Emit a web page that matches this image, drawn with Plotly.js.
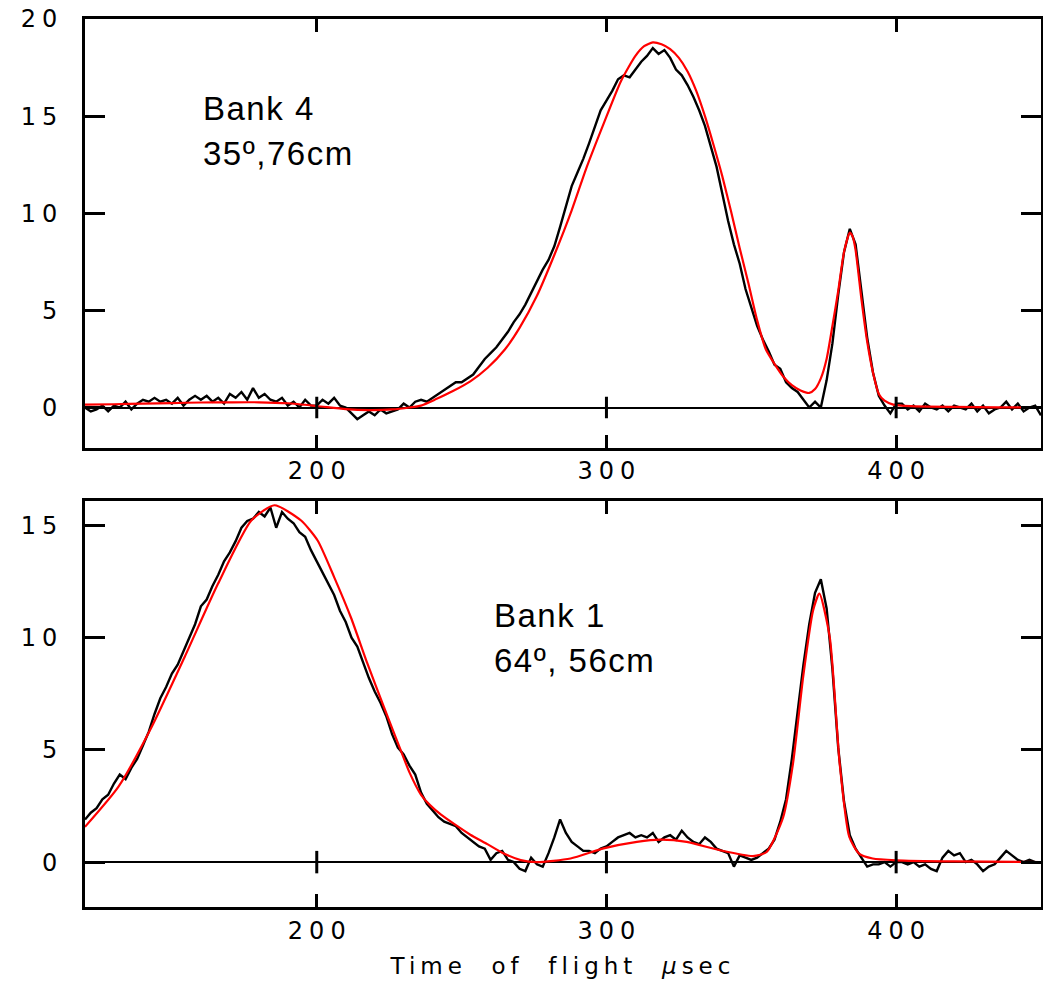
<!DOCTYPE html>
<html>
<head>
<meta charset="utf-8">
<script src="https://cdn.plot.ly/plotly-3.0.1.min.js"></script>
<style>html,body{margin:0;padding:0;background:#fff;}#chart{width:1043px;height:987px;}</style>
</head>
<body>
<div id="chart"></div>
<script>
// ---- Bank 4 (top panel): measured counts on a 2 µs grid, 120..450 ----
const bank4Time = [];
for (let t = 120; t <= 450; t += 2) bank4Time.push(t);
const bank4Counts = [
 0.0,-0.2,-0.1,0.1,-0.2,0.1,0.0,0.3,-0.1,0.2,            // 120-138
 0.4,0.3,0.5,0.3,0.4,0.2,0.5,0.1,0.4,0.6,                // 140-158
 0.4,0.6,0.3,0.5,0.2,0.7,0.5,0.8,0.4,1.0,                // 160-178
 0.5,0.7,0.4,0.3,0.5,0.1,0.3,0.0,0.4,0.1,                // 180-198
 0.1,0.4,0.2,0.5,0.1,0.0,-0.3,-0.6,-0.4,-0.2,            // 200-218
 -0.4,-0.1,-0.3,-0.2,-0.1,0.2,0.0,0.3,0.4,0.3,           // 220-238
 0.5,0.7,0.9,1.1,1.3,1.3,1.5,1.7,2.1,2.5,                // 240-258
 2.8,3.1,3.5,3.9,4.4,4.8,5.3,5.9,6.5,7.1,                // 260-278
 7.6,8.3,9.3,10.4,11.4,12.1,12.8,13.6,14.5,15.3,         // 280-298
 15.8,16.3,16.9,17.1,17.0,17.4,17.8,18.1,18.5,18.2,      // 300-318
 18.4,18.0,17.4,17.1,16.6,16.0,15.3,14.5,13.5,12.4,      // 320-338
 11.0,9.6,8.4,7.4,6.1,5.2,4.2,3.5,2.9,2.2,               // 340-358
 2.0,1.3,1.0,0.8,0.4,0.0,0.3,0.0,1.4,3.3,                // 360-378
 5.8,8.0,9.2,8.4,6.0,3.6,1.8,0.6,0.1,-0.3,               // 380-398
 0.2,0.2,-0.1,0.1,-0.2,0.2,0.0,-0.1,0.1,-0.2,            // 400-418
 0.1,0.0,-0.1,0.2,-0.2,0.1,-0.3,-0.1,0.0,0.3,            // 420-438
 -0.1,0.2,-0.2,0.0,0.1,-0.4                              // 440-450
];
// ---- Bank 4 fit (red) ----
const bank4FitTime = [120,130,140,150,160,170,180,190,200,210,218,226,232,236,241,247,253,259,265,270,276,282,288,293,299,305,310,313,316,319,322,325,328,331,334,337,340,343,346,349,352,355,358,361,364,367,370,372,374,376,378,380,382,384,385,386,388,390,392,394,396,399,405,420,435,450];
const bank4Fit = [0.15,0.17,0.2,0.23,0.26,0.27,0.27,0.22,0.08,-0.08,-0.13,-0.1,0.0,0.1,0.42,0.85,1.35,2.05,3.0,4.1,5.75,7.85,10.15,12.3,14.6,16.8,18.1,18.6,18.8,18.7,18.45,18.0,17.3,16.3,15.0,13.5,11.9,10.1,8.2,6.4,4.5,3.0,2.25,1.6,1.15,0.88,0.75,0.95,1.5,2.5,4.2,6.0,8.0,9.0,8.8,8.1,5.6,3.4,1.8,0.7,0.35,0.15,0.07,0.03,0.01,0.0];

// ---- Bank 1 (bottom panel): measured counts on a 2 µs grid, 120..450 ----
const bank1Time = [];
for (let t = 120; t <= 450; t += 2) bank1Time.push(t);
const bank1Counts = [
 1.9,2.2,2.4,2.8,3.0,3.5,3.9,3.7,4.2,4.6,                // 120-138
 5.2,5.8,6.6,7.3,7.8,8.4,8.8,9.4,10.0,10.6,              // 140-158
 11.4,11.7,12.3,12.8,13.4,13.8,14.3,14.9,15.2,15.3,      // 160-178
 15.6,15.4,15.8,14.9,15.6,15.3,15.1,14.7,14.5,13.9,      // 180-198
 13.4,12.9,12.4,11.9,11.2,10.7,10.0,9.6,8.9,8.2,         // 200-218
 7.6,7.1,6.5,5.7,5.1,4.8,4.3,3.9,3.1,2.6,                // 220-238
 2.3,2.0,1.8,1.7,1.6,1.3,1.1,0.9,0.7,0.6,                // 240-258
 0.1,0.4,0.5,0.1,0.0,-0.3,-0.4,0.2,-0.1,-0.2,            // 260-278
 0.4,1.1,1.9,1.3,0.9,0.7,0.5,0.5,0.4,0.6,                // 280-298
 0.7,0.9,1.1,1.2,1.3,1.1,1.2,1.1,1.3,0.9,                // 300-318
 1.1,1.2,1.0,1.4,1.1,0.9,0.8,1.1,0.9,0.6,                // 320-338
 0.5,0.4,-0.2,0.3,0.2,0.1,0.2,0.4,0.6,1.0,               // 340-358
 1.8,2.8,4.6,6.7,8.8,10.6,12.0,12.6,11.3,8.6,            // 360-378
 5.1,2.7,1.2,0.6,0.2,-0.2,-0.1,-0.1,0.0,-0.2,            // 380-398
 0.0,0.0,-0.1,0.0,-0.2,-0.1,-0.3,-0.4,0.2,0.5,           // 400-418
 0.3,0.4,0.0,0.1,-0.1,-0.4,-0.2,-0.1,0.2,0.5,            // 420-438
 0.3,0.1,0.0,0.1,0.0,0.0                                 // 440-450
];
// ---- Bank 1 fit (red) ----
const bank1FitTime = [120,131.5,143,154.4,165.9,177.4,185.4,194.6,200.3,206,211.8,217.5,223.2,229,232,236,239,243,247.4,253,258.9,264,270.4,276,287.6,299,310.5,318.7,327.7,339.2,350.6,355.3,361,364.4,367.9,371.3,373.5,377.1,380.5,383.8,387.2,391.9,400,420,450];
const bank1Fit = [1.57,3.35,6.02,9.14,12.4,15.22,15.9,15.22,14.33,12.7,10.9,8.84,6.9,4.98,4.0,3.0,2.55,2.1,1.7,1.22,0.8,0.42,0.09,0.0,0.16,0.61,0.9,1.0,0.9,0.53,0.27,0.45,2.0,4.4,8.25,11.2,11.96,10.0,4.4,1.13,0.38,0.16,0.08,0.03,0.0];

const xTickValues = [200, 300, 400];
const xTickLabels = ['200', '300', '400'];
const yTickValuesTop = [0, 5, 10, 15, 20];
const yTickLabelsTop = ['0', '5', '10', '15', '20'];
const yTickValuesBottom = [0, 5, 10, 15];
const yTickLabelsBottom = ['0', '5', '10', '15'];
const xTitle = 'Time  of  flight  <i>µ</i>sec';

// widen text: letter spacing on every character except the last
const spaced = (s, px) => s.length > 1
  ? '<span style="letter-spacing:' + px + 'px">' + s.slice(0, -1) + '</span>' + s.slice(-1)
  : s;

const tickFont = {family: 'DejaVu Sans, sans-serif', size: 24, color: '#000'};
const blackLine = {color: '#000', width: 2.4};
const redLine = {color: '#ff0000', width: 2.2, shape: 'spline', smoothing: 0.6};

const traces = [
  {x: bank4Time, y: bank4Counts, xaxis: 'x', yaxis: 'y', mode: 'lines', line: blackLine, hoverinfo: 'skip'},
  {x: bank4FitTime, y: bank4Fit, xaxis: 'x', yaxis: 'y', mode: 'lines', line: redLine, hoverinfo: 'skip'},
  {x: bank1Time, y: bank1Counts, xaxis: 'x2', yaxis: 'y2', mode: 'lines', line: blackLine, hoverinfo: 'skip'},
  {x: bank1FitTime, y: bank1Fit, xaxis: 'x2', yaxis: 'y2', mode: 'lines', line: redLine, hoverinfo: 'skip'}
];

function xAxis(anchor, withTitle) {
  const a = {
    anchor: anchor, domain: [0, 1], range: [120, 450],
    tickmode: 'array', tickvals: xTickValues, ticktext: xTickLabels.map(s => spaced(s, 6)),
    ticks: 'inside', ticklen: 13, tickwidth: 3, tickcolor: '#000',
    showline: true, linecolor: '#000', linewidth: 3, mirror: 'ticks',
    showgrid: false, zeroline: false,
    tickfont: tickFont, ticklabelstandoff: 0, fixedrange: true
  };
  if (withTitle) a.title = {text: '<span style="letter-spacing:5px">' + xTitle + '</span>', font: {family: 'DejaVu Sans, sans-serif', size: 23, color: '#000'}, standoff: 15};
  return a;
}
function yAxis(anchor, domain, range, vals, labels) {
  return {
    anchor: anchor, domain: domain, range: range,
    tickmode: 'array', tickvals: vals, ticktext: labels.map(s => spaced(s, 6)),
    ticks: 'inside', ticklen: 20, tickwidth: 3, tickcolor: '#000',
    showline: true, linecolor: '#000', linewidth: 3, mirror: 'ticks',
    showgrid: false, zeroline: true, zerolinecolor: '#000', zerolinewidth: 2,
    tickfont: tickFont, ticklabelstandoff: 20, fixedrange: true
  };
}

// crossing tick marks on the zero line at each x tick value
const shapes = [];
xTickValues.forEach(v => {
  shapes.push({type: 'line', xref: 'x', yref: 'y', x0: v, x1: v, y0: -0.55, y1: 0.55, line: {color: '#000', width: 3}});
  shapes.push({type: 'line', xref: 'x2', yref: 'y2', x0: v, x1: v, y0: -0.5, y1: 0.5, line: {color: '#000', width: 3}});
});

const labelFont = {family: 'Liberation Sans, Arial, sans-serif', size: 33, color: '#000'};
const annotations = [
  {xref: 'x', yref: 'y', x: 160, y: 15.4, text: spaced('Bank 4', 1.5), showarrow: false, xanchor: 'left', yanchor: 'middle', font: labelFont},
  {xref: 'x', yref: 'y', x: 160, y: 13.1, text: spaced('35º,76cm', 1.5), showarrow: false, xanchor: 'left', yanchor: 'middle', font: labelFont},
  {xref: 'x2', yref: 'y2', x: 260.5, y: 11.0, text: spaced('Bank 1', 1.5), showarrow: false, xanchor: 'left', yanchor: 'middle', font: labelFont},
  {xref: 'x2', yref: 'y2', x: 260.5, y: 9.0, text: spaced('64º, 56cm', 1.5), showarrow: false, xanchor: 'left', yanchor: 'middle', font: labelFont}
];

const layout = {
  width: 1043, height: 987,
  margin: {l: 85, r: 2, t: 19, b: 80},
  paper_bgcolor: '#fff', plot_bgcolor: '#fff',
  showlegend: false,
  xaxis: xAxis('y', false),
  yaxis: yAxis('x', [0.5174, 1], [-2.06, 20], yTickValuesTop, yTickLabelsTop),
  xaxis2: xAxis('y2', true),
  yaxis2: yAxis('x2', [0, 0.4567], [-2, 16.07], yTickValuesBottom, yTickLabelsBottom),
  shapes: shapes,
  annotations: annotations
};

Plotly.newPlot('chart', traces, layout, {displayModeBar: false, staticPlot: true});
</script>
</body>
</html>
